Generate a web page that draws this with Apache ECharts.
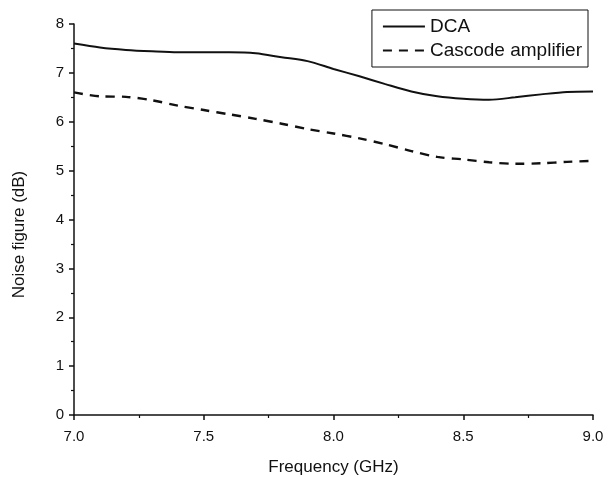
<!DOCTYPE html>
<html>
<head>
<meta charset="utf-8">
<script src="https://cdn.jsdelivr.net/npm/echarts@6/dist/echarts.min.js"></script>
<style>
  html, body { margin: 0; padding: 0; background: #fff; }
  #main { width: 612px; height: 477px; }
</style>
</head>
<body>
<div id="main"></div>
<script>
// frequency points (GHz)
var freq = [7.0, 7.1, 7.2, 7.3, 7.4, 7.5, 7.6, 7.7, 7.8, 7.9, 8.0,
            8.1, 8.2, 8.3, 8.4, 8.5, 8.6, 8.7, 8.8, 8.9, 9.0];
// noise figure (dB)
var nfDCA = [7.60, 7.52, 7.47, 7.44, 7.42, 7.42, 7.42, 7.40, 7.32, 7.24, 7.08,
             6.93, 6.77, 6.62, 6.52, 6.47, 6.45, 6.50, 6.56, 6.61, 6.62];
var nfCascode = [6.60, 6.52, 6.51, 6.44, 6.33, 6.24, 6.15, 6.06, 5.96, 5.85, 5.76,
                 5.66, 5.54, 5.40, 5.28, 5.23, 5.17, 5.14, 5.15, 5.18, 5.20];

function pairs(xs, ys) {
    var out = [];
    for (var i = 0; i < xs.length; i++) {
        out.push([xs[i], ys[i]]);
    }
    return out;
}

var fontFam = 'Liberation Sans, Arial, sans-serif';

var chart = echarts.init(document.getElementById('main'));
chart.setOption({
    animation: false,
    backgroundColor: '#fff',
    grid: { left: 74, right: 19, top: 24, bottom: 62, outerBoundsMode: 'none', containLabel: false },
    legend: {
        orient: 'vertical',
        right: 24,
        top: 10,
        borderColor: '#111',
        borderWidth: 1,
        padding: [7, 6, 7, 10],
        itemGap: 5,
        itemWidth: 42,
        itemHeight: 14,
        itemStyle: { opacity: 0 },
        textStyle: { color: '#111', fontSize: 19, fontFamily: fontFam },
        data: ['DCA', 'Cascode amplifier']
    },
    xAxis: {
        type: 'value',
        min: 7.0,
        max: 9.0,
        interval: 0.5,
        name: 'Frequency (GHz)',
        nameLocation: 'middle',
        nameGap: 44,
        nameTextStyle: { color: '#111', fontSize: 17, fontFamily: fontFam },
        axisLine: { onZero: false, lineStyle: { color: '#111', width: 1.5 } },
        axisTick: { inside: false, length: 5, lineStyle: { color: '#111', width: 1.5 } },
        minorTick: { show: true, splitNumber: 2, length: 3, lineStyle: { color: '#111', width: 1.2 } },
        splitLine: { show: false },
        axisLabel: {
            color: '#111', fontSize: 15, fontFamily: fontFam, margin: 14,
            formatter: function (v) { return v.toFixed(1); }
        }
    },
    yAxis: {
        type: 'value',
        min: 0,
        max: 8,
        interval: 1,
        name: 'Noise figure (dB)',
        nameLocation: 'middle',
        nameGap: 46,
        nameTextStyle: { color: '#111', fontSize: 17, fontFamily: fontFam, padding: [0, 30, 0, 0] },
        axisLine: { show: true, onZero: false, lineStyle: { color: '#111', width: 1.5 } },
        axisTick: { show: true, inside: false, length: 5, lineStyle: { color: '#111', width: 1.5 } },
        minorTick: { show: true, splitNumber: 2, length: 3, lineStyle: { color: '#111', width: 1.2 } },
        splitLine: { show: false },
        axisLabel: { color: '#111', fontSize: 15, fontFamily: fontFam, margin: 10 }
    },
    series: [
        {
            name: 'DCA',
            type: 'line',
            smooth: 0.3,
            symbol: 'none',
            data: pairs(freq, nfDCA),
            lineStyle: { color: '#111', width: 2, type: 'solid' },
            itemStyle: { color: '#111' }
        },
        {
            name: 'Cascode amplifier',
            type: 'line',
            smooth: 0.3,
            symbol: 'none',
            data: pairs(freq, nfCascode),
            lineStyle: { color: '#111', width: 2.4, type: [9, 7] },
            itemStyle: { color: '#111' }
        }
    ]
});
</script>
</body>
</html>
